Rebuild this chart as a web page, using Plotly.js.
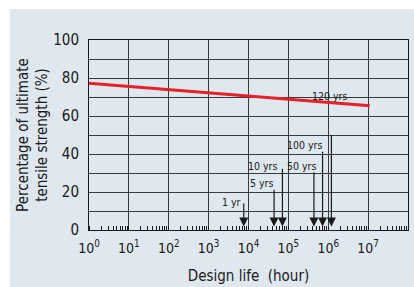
<!DOCTYPE html>
<html>
<head>
<meta charset="utf-8">
<script src="https://cdn.plot.ly/plotly-3.0.1.min.js"></script>
<style>
  html, body { margin: 0; padding: 0; background: #ffffff; width: 414px; height: 287px; overflow: hidden; }
  #chart { position: absolute; left: 10px; top: 9px; width: 404px; height: 278px; }
</style>
</head>
<body>
<div id="chart"></div>
<script>
// Data
const lifeHours = [1, 1.1e7];
const strengthPct = [77.2, 65.4];

const markerLabels = ["1 yr", "5 yrs", "10 yrs", "50 yrs", "100 yrs", "120 yrs"];
const markerHours = [7.6e3, 4.38e4, 7.1e4, 4.38e5, 7.2e5, 1.2e6];

const xTickVals = [1, 10, 100, 1e3, 1e4, 1e5, 1e6, 1e7];
const xTickText = ["10<sup>0</sup>", "10<sup>1</sup>", "10<sup>2</sup>", "10<sup>3</sup>",
                   "10<sup>4</sup>", "10<sup>5</sup>", "10<sup>6</sup>", "10<sup>7</sup>"];
const yTickVals = [0, 20, 40, 60, 80, 100];

// annotation layout (not data)
const arrowTop = [14.7, 22, 33, 31, 42, 50.5];
const labelY = [14.7, 24.5, 33.5, 33.5, 45, 70.5];
const labelShift = [-1, 1, -3, 4, 1, 18];

const FONT = "'Liberation Sans Narrow', 'DejaVu Sans Condensed', sans-serif";
const GRID = "#3a3a3a";

const annotations = [];
markerHours.forEach((h, i) => {
  const lx = Math.log10(h);
  annotations.push({
    x: lx, y: 1.8, xref: 'x', yref: 'y',
    ax: lx, ay: arrowTop[i], axref: 'x', ayref: 'y',
    text: '', showarrow: true, arrowhead: 2, arrowsize: 1.5, arrowwidth: 1.2,
    arrowcolor: '#1a1a1a', standoff: 0, startstandoff: 0
  });
  annotations.push({
    x: lx, y: labelY[i], xref: 'x', yref: 'y',
    text: markerLabels[i], showarrow: false,
    xanchor: 'right', yanchor: 'middle', xshift: labelShift[i],
    font: { family: FONT, size: 10.5, color: '#1a1a1a' }
  });
});

const trace = {
  x: lifeHours, y: strengthPct, type: 'scatter', mode: 'lines',
  line: { color: '#e8202a', width: 3 }, hoverinfo: 'skip'
};

const layout = {
  width: 404, height: 278,
  margin: { l: 79, r: 6, t: 31, b: 57, pad: 0 },
  paper_bgcolor: '#dfe7ef', plot_bgcolor: '#dfe7ef',
  showlegend: false,
  font: { family: FONT, color: '#1a1a1a' },
  xaxis: {
    type: 'log', range: [0, 8], tickvals: xTickVals, ticktext: xTickText,
    showgrid: true, gridcolor: GRID, gridwidth: 1,
    showline: true, linecolor: '#1a1a1a', linewidth: 1, mirror: true,
    ticks: '', ticklabelstandoff: 5, tickfont: { family: FONT, size: 14, color: '#1a1a1a' },
    minor: { ticks: 'inside', ticklen: 4, tickcolor: '#1a1a1a', tickwidth: 1, dtick: 'D1', showgrid: false },
    zeroline: false,
    title: { text: 'Design life  (hour)', font: { family: FONT, size: 15, color: '#1a1a1a' }, standoff: 15 }
  },
  yaxis: {
    range: [0, 100], tickvals: yTickVals,
    showgrid: true, gridcolor: GRID, gridwidth: 1,
    minor: { dtick: 10, showgrid: true, gridcolor: GRID, gridwidth: 1, ticks: '' },
    showline: true, linecolor: '#1a1a1a', linewidth: 1, mirror: true,
    ticks: '', ticklabelstandoff: 6, tickfont: { family: FONT, size: 15, color: '#1a1a1a' },
    zeroline: false,
    title: { text: 'Percentage of ultimate<br>tensile strength (%)', font: { family: FONT, size: 15, color: '#1a1a1a' }, standoff: 1 }
  },
  annotations: annotations
};

Plotly.newPlot('chart', [trace], layout, { staticPlot: true, displayModeBar: false });
</script>
</body>
</html>
